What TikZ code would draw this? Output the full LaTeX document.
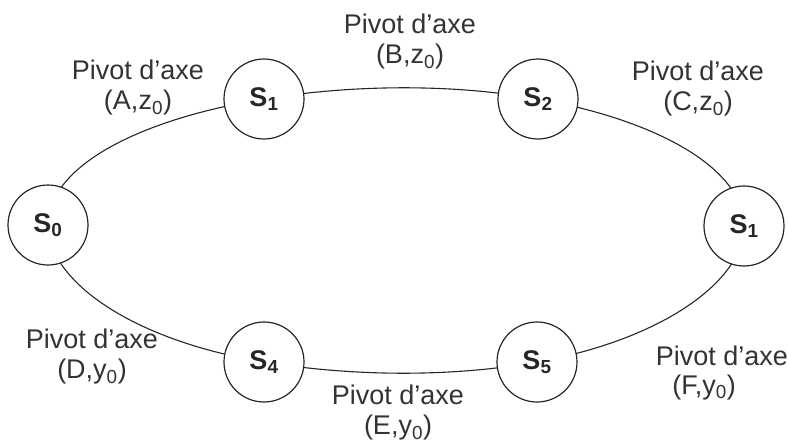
\documentclass[tikz,border=0pt]{standalone}
\usepackage{fontspec}
\setmainfont{Liberation Sans}
\usetikzlibrary{backgrounds}
\newcommand\Sx[1]{S\textsubscript{#1}}
\begin{document}
\begin{tikzpicture}[x=1pt,y=-1pt,
  sol/.style={circle,draw=black!85,line width=1.2pt,fill=white,minimum size=80pt,inner sep=0pt,
    font=\fontsize{27}{30}\selectfont\bfseries,text=black!85},
  link/.style={draw=black!85,line width=1.1pt},
  lab/.style={align=center,font=\fontsize{27}{30}\selectfont,text=black!80,inner sep=0pt}]
\useasboundingbox (0,0) rectangle (789,444);
\node[sol] (s0) at (48,225) {\Sx{0}};
\node[sol] (s1) at (264,99) {\Sx{1}};
\node[sol] (s2) at (538,99) {\Sx{2}};
\node[sol] (s3) at (744,226) {\Sx{1}};
\node[sol] (s4) at (264,362) {\Sx{4}};
\node[sol] (s5) at (537,362) {\Sx{5}};
\begin{pgfonlayer}{background}
\draw[link] (s0.center) .. controls +(0,-56.4) and +(-130.7,21.4) .. (s1.center);
\draw[link] (s1.center) .. controls +(88.07,-14.41) and +(-86.9,-15.5) .. (s2.center);
\draw[link] (s2.center) .. controls +(125.3,22.4) and +(0,-54.8) .. (s3.center);
\draw[link] (s0.center) .. controls +(0,56.4) and +(-130.7,-21.4) .. (s4.center);
\draw[link] (s4.center) .. controls +(88.07,14.41) and +(-86.9,15.5) .. (s5.center);
\draw[link] (s5.center) .. controls +(125.3,-22.4) and +(0,54.8) .. (s3.center);
\end{pgfonlayer}
\node[lab] (lB) at (410,42) {Pivot d'axe\\(B,z\textsubscript{0})};
\node[lab] (lA) at (138,88) {Pivot d'axe\\(A,z\textsubscript{0})};
\node[lab] (lC) at (698,89) {Pivot d'axe\\(C,z\textsubscript{0})};
\node[lab] (lD) at (92,357) {Pivot d'axe\\(D,y\textsubscript{0})};
\node[lab] (lE) at (398,413) {Pivot d'axe\\(E,y\textsubscript{0})};
\node[lab,anchor=base] (lF1) at (722,365) {Pivot d'axe};
\node[lab,anchor=base] (lF2) at (704,394) {(F,y\textsubscript{0})};
\end{tikzpicture}
\end{document}
